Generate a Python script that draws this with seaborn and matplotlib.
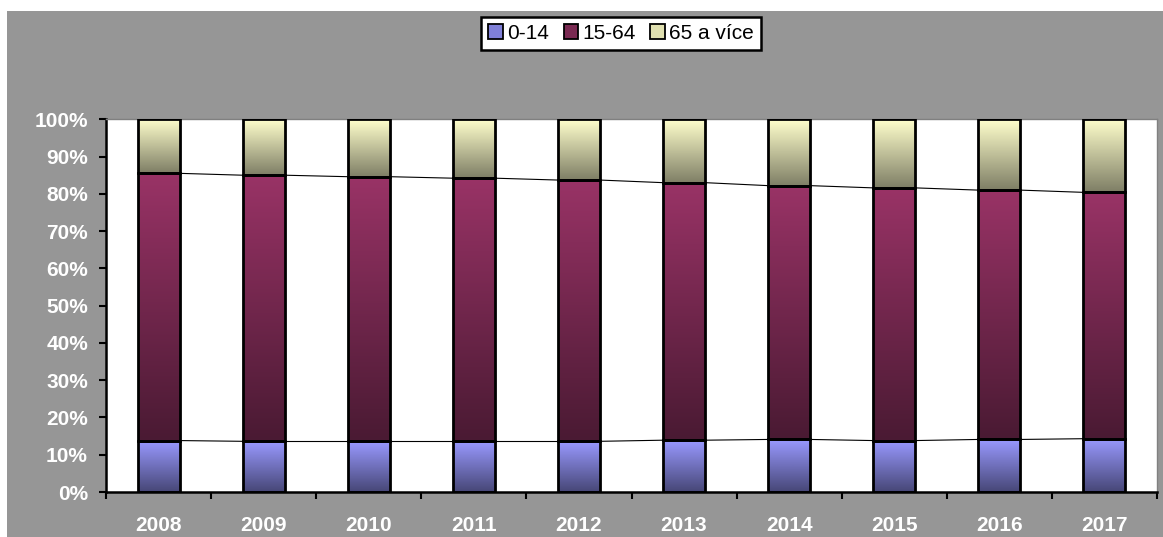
import numpy as np
import matplotlib
matplotlib.use("Agg")
import matplotlib.pyplot as plt
from matplotlib.colors import LinearSegmentedColormap
from matplotlib.patches import Patch, Rectangle
import seaborn as sns

# data (podil vekovych skupin, %)
years = ["2008", "2009", "2010", "2011", "2012", "2013", "2014", "2015", "2016", "2017"]
share_0_14 = [13.8, 13.6, 13.6, 13.6, 13.6, 13.9, 14.1, 13.8, 14.1, 14.3]
share_15_64 = [71.7, 71.4, 71.0, 70.6, 70.1, 69.1, 68.1, 67.8, 66.9, 66.1]
share_65 = [14.5, 15.0, 15.4, 15.8, 16.3, 17.0, 17.8, 18.4, 19.0, 19.6]
labels = ["0-14", "15-64", "65 a více"]

child = np.array(share_0_14)
cum = child + np.array(share_15_64)
total = cum + np.array(share_65)

sns.set_style("white")
plt.rcParams['font.family'] = ['Liberation Sans', 'DejaVu Sans']
plt.rcParams['text.color'] = 'black'

fig = plt.figure(figsize=(11.63, 5.37), dpi=100, facecolor="white")
fig.patches.append(Rectangle((7 / 1163, 0), 1, 1 - 11 / 537, transform=fig.transFigure,
                             facecolor="#969696", edgecolor="none", zorder=-5))
ax = fig.add_axes([106 / 1163, 1 - 492 / 537, (1157 - 106) / 1163, (492 - 119.3) / 537])
ax.set_facecolor("white")

w = 0.4
# stacked trick: full height first, then lower parts over it
sns.barplot(x=years, y=total, ax=ax, width=w, errorbar=None, color="white")
sns.barplot(x=years, y=cum, ax=ax, width=w, errorbar=None, color="white")
sns.barplot(x=years, y=child, ax=ax, width=w, errorbar=None, color="white")

bars = ax.patches
grads = [("#7f7f66", "#ffffcc"), ("#4a1a33", "#993366"), ("#474777", "#9999ff")]
bottoms = [cum, child, np.zeros(len(years))]
tops = [total, cum, child]
for layer in range(3):
    cmap = LinearSegmentedColormap.from_list("g%d" % layer, grads[layer])
    for i in range(len(years)):
        p = bars[layer * len(years) + i]
        p.set_y(bottoms[layer][i])
        p.set_height(tops[layer][i] - bottoms[layer][i])
        x0 = p.get_x()
        x1 = x0 + p.get_width()
        grad = np.linspace(0, 1, 100).reshape(-1, 1)
        ax.imshow(grad, cmap=cmap, origin="lower", aspect="auto",
                  extent=(x0, x1, bottoms[layer][i], tops[layer][i]), zorder=2)
        p.set_facecolor("none")
        p.set_edgecolor("black")
        p.set_linewidth(2.0)
        p.set_zorder(3)

# spojnice mezi sloupci
for series in (child, cum):
    for i in range(len(years) - 1):
        ax.plot([i + w / 2, i + 1 - w / 2], [series[i], series[i + 1]],
                color="black", lw=0.8, zorder=2.5)

ax.set_xlim(-0.5, 9.5)
ax.set_ylim(0, 100)
ax.set_yticks(np.arange(0, 101, 10))
ax.set_yticklabels(["%d%%" % v for v in range(0, 101, 10)])
ax.set_xticks(np.arange(len(years)))
ax.set_xticklabels(years)
ax.set_xticks(np.arange(-0.5, 10, 1), minor=True)
ax.set_xlabel("")
ax.set_ylabel("")

ax.tick_params(axis="y", direction="out", length=5, width=1.5, color="black",
               pad=8, labelsize=15, labelcolor="white", left=True)
ax.tick_params(axis="x", which="major", length=0, pad=17, labelsize=15, labelcolor="white")
ax.tick_params(axis="x", which="minor", direction="out", length=5, width=1.5,
               color="black", bottom=True)
for t in ax.get_xticklabels() + ax.get_yticklabels():
    t.set_fontweight("bold")

for s in ["left", "bottom"]:
    ax.spines[s].set_color("black")
    ax.spines[s].set_linewidth(1.8)
for s in ["top", "right"]:
    ax.spines[s].set_color("#808080")
    ax.spines[s].set_linewidth(1.0)

handles = [Patch(facecolor="#8080d8", edgecolor="black", lw=1.3),
           Patch(facecolor="#7a2a52", edgecolor="black", lw=1.3),
           Patch(facecolor="#e0e0b0", edgecolor="black", lw=1.3)]
leg = fig.legend(handles, labels, loc="center", bbox_to_anchor=(0.534, 0.9376), ncol=3,
                 frameon=True, fancybox=False, edgecolor="black", facecolor="white",
                 fontsize=15, handlelength=0.7, handleheight=0.7, handletextpad=0.2,
                 columnspacing=0.7, borderpad=0.35, borderaxespad=0)
leg.get_frame().set_linewidth(1.8)
leg.get_frame().set_alpha(1)

fig.savefig("out.png", dpi=100, facecolor=fig.get_facecolor())
